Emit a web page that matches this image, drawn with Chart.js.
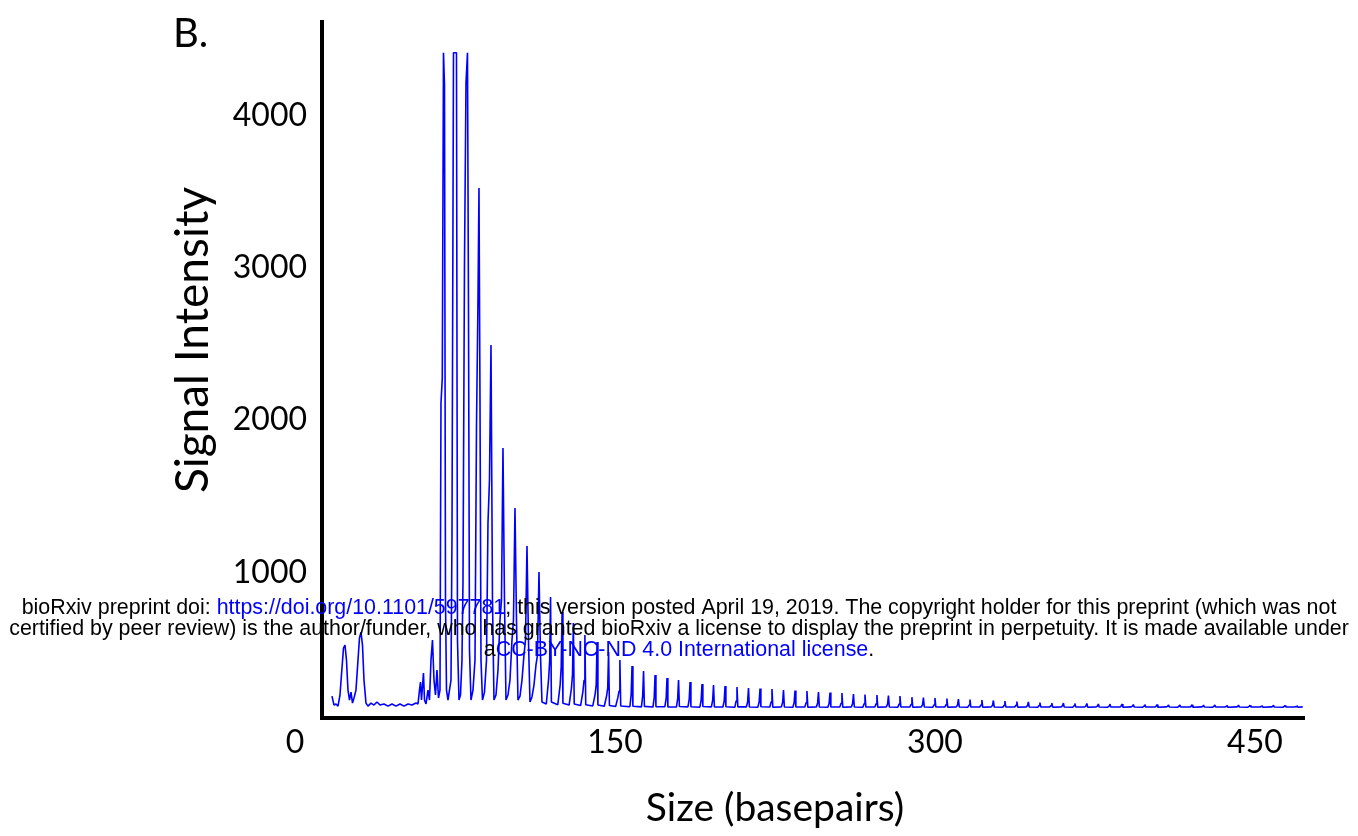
<!DOCTYPE html>
<html lang="en">
<head>
  <meta charset="UTF-8">
  <title>Signal Intensity vs Size</title>
  <script src="https://cdn.jsdelivr.net/npm/chart.js"></script>
  <style>
    html, body { margin: 0; padding: 0; background: #fff; }
    #wrap { width: 1358px; height: 836px; }
  </style>
</head>
<body>
  <div id="wrap"><canvas id="trace" width="1358" height="836"></canvas></div>
  <script>
    // trace: size (bp) and signal intensity
    // early part: two primer humps, then flat baseline
    const earlySize = [17.34, 18.28, 19.22, 20.16, 21.09, 22.03, 22.73, 23.44, 24.14, 24.84, 25.55, 26.25, 26.95,
      27.66, 28.59, 29.53, 30.23, 30.94, 31.64, 32.34, 33.28, 34.22, 35.63, 37.03, 38.44, 39.84, 41.72, 43.59,
      45.47, 47.34, 49.22, 51.09, 52.97, 54.84, 56.72, 57.66, 58.36, 58.83, 59.30, 59.77, 60.23, 60.70, 61.41,
      62.34, 63.05, 63.75, 64.45, 65.16, 65.86, 66.56, 67.27, 67.97];
    const earlySignal = [187, 128, 135, 121, 194, 371, 502, 522, 423, 226, 161, 213, 141,
      174, 226, 423, 568, 607, 522, 292, 141, 121, 141, 128, 148, 128, 135, 121,
      135, 121, 135, 121, 135, 128, 141, 135, 226, 279, 161, 253, 338, 161, 135,
      226, 161, 423, 555, 292, 194, 358, 174, 226];

    // main cluster of big peaks (the tallest ones saturate)
    const clusterSize = [68.44, 69.05, 69.61, 70.08, 70.55, 71.02, 71.72, 72.42, 73.13, 73.59, 74.30, 75.00, 75.70,
      76.17, 76.88, 77.58, 78.28, 78.75, 79.45, 80.16, 80.86, 81.33, 81.80, 82.50, 83.44, 84.38, 85.08, 85.78,
      86.25, 86.72, 87.19, 87.89, 88.83, 89.77, 90.47, 91.17, 91.88, 92.58, 93.28, 94.22, 95.16, 96.09, 96.80,
      97.50, 98.20, 98.91, 99.84, 100.78, 101.72, 102.42, 103.13, 103.83, 104.53, 105.47, 106.41, 107.34, 108.05,
      108.75, 109.45, 110.16, 111.09, 112.03, 112.97, 113.67, 114.38, 115.08, 115.78];
    const clusterSignal = [2111, 2275, 4410, 4198, 817, 226, 161, 226, 292, 1231, 4410, 4410, 4410,
      555, 161, 194, 423, 929, 3023, 4211, 4410, 2741, 489, 161, 226, 423, 1953, 2787,
      3522, 2130, 423, 161, 213, 423, 1323, 1605, 2491, 817, 161, 194, 358, 686, 817,
      1815, 817, 161, 194, 292, 555, 686, 1421, 686, 161, 187, 292, 456, 555,
      1172, 555, 148, 181, 259, 391, 456, 1001, 456, 148];

    // long tail of the ladder
    const tailSize = [
      117.8, 118.9, 119.4, 119.8, 120.2,
      123.2, 124.3, 124.8, 125.2, 125.6,
      128.5, 129.6, 130.1, 130.5, 130.9,
      133.9, 135.0, 135.5, 135.9, 136.3,
      139.6, 140.7, 141.2, 141.6, 142.0,
      145.0, 146.1, 146.6, 147.0, 147.4,
      150.3, 151.4, 151.9, 152.3, 152.7,
      157.0, 157.6, 158.0, 158.4, 162.4, 163.0, 163.4, 163.8,
      167.8, 168.4, 168.8, 169.2, 173.4, 174.0, 174.4, 174.8,
      178.8, 179.4, 179.8, 180.2, 184.2, 184.8, 185.2, 185.6,
      189.8, 190.4, 190.8, 191.2, 195.2, 195.8, 196.2, 196.6,
      200.6, 201.2, 201.6, 202.0, 206.2, 206.8, 207.2, 207.6,
      211.6, 212.2, 212.6, 213.0, 217.0, 217.6, 218.0, 218.4,
      222.6, 223.2, 223.6, 224.0, 228.0, 228.6, 229.0, 229.4,
      233.4, 234.0, 234.4, 234.8, 239.0, 239.6, 240.0, 240.4,
      244.4, 245.0, 245.4, 245.8, 249.8, 250.4, 250.8, 251.2,
      255.4, 256.0, 256.4, 256.8, 260.8, 261.4, 261.8, 262.2,
      266.2, 266.8, 267.2, 267.6, 271.8, 272.4, 272.8, 273.2,
      277.2, 277.8, 278.2, 278.6, 282.6, 283.2, 283.6, 284.0,
      288.2, 288.8, 289.2, 289.6, 293.6, 294.2, 294.6, 295.0,
      299.0, 299.6, 300.0, 300.4, 304.6, 305.2, 305.6, 306.0,
      310.0, 310.6, 311.0, 311.4, 315.4, 316.0, 316.4, 316.8,
      321.0, 321.6, 322.0, 322.4, 326.4, 327.0, 327.4, 327.8,
      331.8, 332.4, 332.8, 333.2, 337.4, 338.0, 338.4, 338.8,
      342.8, 343.4, 343.8, 344.2, 348.2, 348.8, 349.2, 349.6,
      353.8, 354.4, 354.8, 355.2, 359.2, 359.8, 360.2, 360.6,
      364.6, 365.2, 365.6, 366.0, 370.2, 370.8, 371.2, 371.6,
      375.6, 376.2, 376.6, 377.0, 381.0, 381.6, 382.0, 382.4,
      386.7, 387.3, 387.7, 388.1, 392.0, 392.6, 393.0, 393.4,
      397.4, 398.0, 398.4, 398.8, 403.1, 403.7, 404.1, 404.5,
      408.5, 409.1, 409.5, 409.9, 413.8, 414.4, 414.8, 415.2,
      419.5, 420.1, 420.5, 420.9, 424.9, 425.5, 425.9, 426.3,
      430.2, 430.8, 431.2, 431.6, 435.9, 436.5, 436.9, 437.3,
      441.3, 441.9, 442.3, 442.7, 446.7, 447.3, 447.7, 448.1,
      452.3, 452.9, 453.3, 453.7, 457.7, 458.3, 458.7, 459.1,
      463.1, 463.7, 464.1, 464.5, 468.7, 469.3, 469.7, 470.1,
      472.4];
    const tailSignal = [
      135, 300, 420, 837, 148,
      130, 260, 380, 739, 140,
      128, 240, 330, 666, 135,
      125, 220, 290, 588, 130,
      122, 200, 260, 542, 128,
      120, 190, 240, 476, 125,
      118, 180, 220, 423, 122,
      117, 200, 384, 120, 116, 190, 351, 119,
      115, 180, 325, 118, 117, 175, 305, 116,
      115, 170, 292, 118, 116, 165, 279, 117,
      114, 160, 266, 118, 116, 160, 259, 115,
      115, 155, 253, 117, 114, 155, 246, 116,
      116, 150, 240, 115, 114, 150, 236, 117,
      115, 148, 233, 114, 116, 146, 226, 115,
      114, 145, 223, 116, 115, 144, 220, 114,
      116, 142, 213, 115, 114, 140, 210, 116,
      115, 140, 207, 114, 116, 138, 200, 115,
      114, 137, 197, 116, 115, 136, 194, 114,
      116, 135, 190, 115, 114, 134, 187, 116,
      115, 132, 180, 114, 116, 131, 177, 115,
      114, 130, 174, 116, 115, 130, 171, 114,
      116, 129, 167, 115, 114, 128, 164, 116,
      115, 128, 161, 114, 116, 127, 158, 115,
      114, 126, 154, 116, 115, 126, 151, 114,
      116, 125, 148, 115, 114, 125, 144, 116,
      115, 124, 141, 114, 116, 124, 141, 115,
      114, 123, 138, 116, 115, 123, 138, 114,
      116, 122, 135, 115, 114, 122, 135, 116,
      115, 122, 135, 114, 116, 121, 131, 115,
      114, 121, 131, 116, 115, 121, 131, 114,
      116, 120, 128, 115, 114, 120, 128, 116,
      115, 120, 130, 114, 116, 119, 127, 115,
      114, 120, 128, 116, 115, 119, 126, 114,
      116, 119, 127, 115, 114, 119, 126, 116,
      115, 119, 125, 114, 116, 119, 126, 115,
      114, 118, 125, 116, 115, 118, 124, 114,
      116];

    const xTicks = [0, 150, 300, 450];
    const yTicks = [1000, 2000, 3000, 4000];
    const xRange = [12.66, 473];
    const yRange = [43, 4612];

    const stampLines = [
      [['bioRxiv preprint doi: ', '#000'], ['https://doi.org/10.1101/597781', '#00f'],
       ['; this version posted April 19, 2019. The copyright holder for this preprint (which was not', '#000']],
      [['certified by peer review) is the author/funder, who has granted bioRxiv a license to display the preprint in perpetuity. It is made available under', '#000']],
      [['a', '#000'], ['CC-BY-NC-ND 4.0 International license', '#00f'], ['.', '#000']]
    ];

    const sizes = earlySize.concat(clusterSize, tailSize);
    const signal = earlySignal.concat(clusterSignal, tailSignal);
    const points = sizes.map((s, i) => ({ x: s, y: signal[i] }));

    // panel letter, axis titles and the preprint stamp
    const figureText = {
      id: 'figureText',
      afterDraw(chart) {
        const ctx = chart.ctx;
        ctx.save();
        ctx.fillStyle = '#000';
        ctx.textBaseline = 'alphabetic';
        ctx.textAlign = 'left';
        ctx.font = '40px Lato';
        ctx.fillText('B.', 173, 47);

        ctx.textAlign = 'center';
        ctx.textBaseline = 'middle';
        ctx.font = '39px Lato';
        ctx.fillText('Size (basepairs)', 775, 808);

        ctx.save();
        ctx.translate(193, 340);
        ctx.rotate(-Math.PI / 2);
        ctx.font = '46px Lato';
        ctx.fillText('Signal Intensity', 0, 0);
        ctx.restore();

        ctx.textAlign = 'left';
        ctx.textBaseline = 'alphabetic';
        ctx.font = '21.4px "Liberation Sans", Arial, sans-serif';
        const baselines = [614, 635, 656];
        stampLines.forEach((line, i) => {
          const total = line.reduce((w, seg) => w + ctx.measureText(seg[0]).width, 0);
          let x = chart.width / 2 - total / 2;
          line.forEach(seg => {
            ctx.fillStyle = seg[1];
            ctx.fillText(seg[0], x, baselines[i]);
            x += ctx.measureText(seg[0]).width;
          });
        });
        ctx.restore();
      }
    };

    new Chart(document.getElementById('trace'), {
      type: 'line',
      data: {
        datasets: [{
          data: points,
          borderColor: '#0000ff',
          borderWidth: 1.6,
          borderJoinStyle: 'bevel',
          pointRadius: 0,
          tension: 0,
          fill: false
        }]
      },
      options: {
        responsive: false,
        animation: false,
        events: [],
        layout: { padding: { top: 22, right: 54, bottom: 0, left: 0 } },
        plugins: { legend: { display: false }, tooltip: { enabled: false } },
        scales: {
          x: {
            type: 'linear',
            min: xRange[0],
            max: xRange[1],
            grid: { display: false, drawTicks: false },
            border: { display: true, color: '#000', width: 4 },
            afterBuildTicks: scale => { scale.ticks = xTicks.map(v => ({ value: v })); },
            afterFit: scale => {
              scale.height = 118;
              scale.paddingLeft = 0;
              scale.paddingRight = 0;
            },
            ticks: {
              autoSkip: false,
              maxRotation: 0,
              padding: 5,
              color: '#000',
              font: { family: 'Lato', size: 32 },
              callback: v => String(v)
            }
          },
          y: {
            type: 'linear',
            min: yRange[0],
            max: yRange[1],
            grid: { display: false, drawTicks: false },
            border: { display: true, color: '#000', width: 4 },
            afterBuildTicks: scale => { scale.ticks = yTicks.map(v => ({ value: v })); },
            afterFit: scale => {
              scale.width = 322;
              scale.paddingTop = 0;
              scale.paddingBottom = 0;
            },
            ticks: {
              autoSkip: false,
              padding: 15,
              color: '#000',
              font: { family: 'Lato', size: 32 },
              callback: v => String(v)
            }
          }
        }
      },
      plugins: [figureText]
    });
  </script>
</body>
</html>
